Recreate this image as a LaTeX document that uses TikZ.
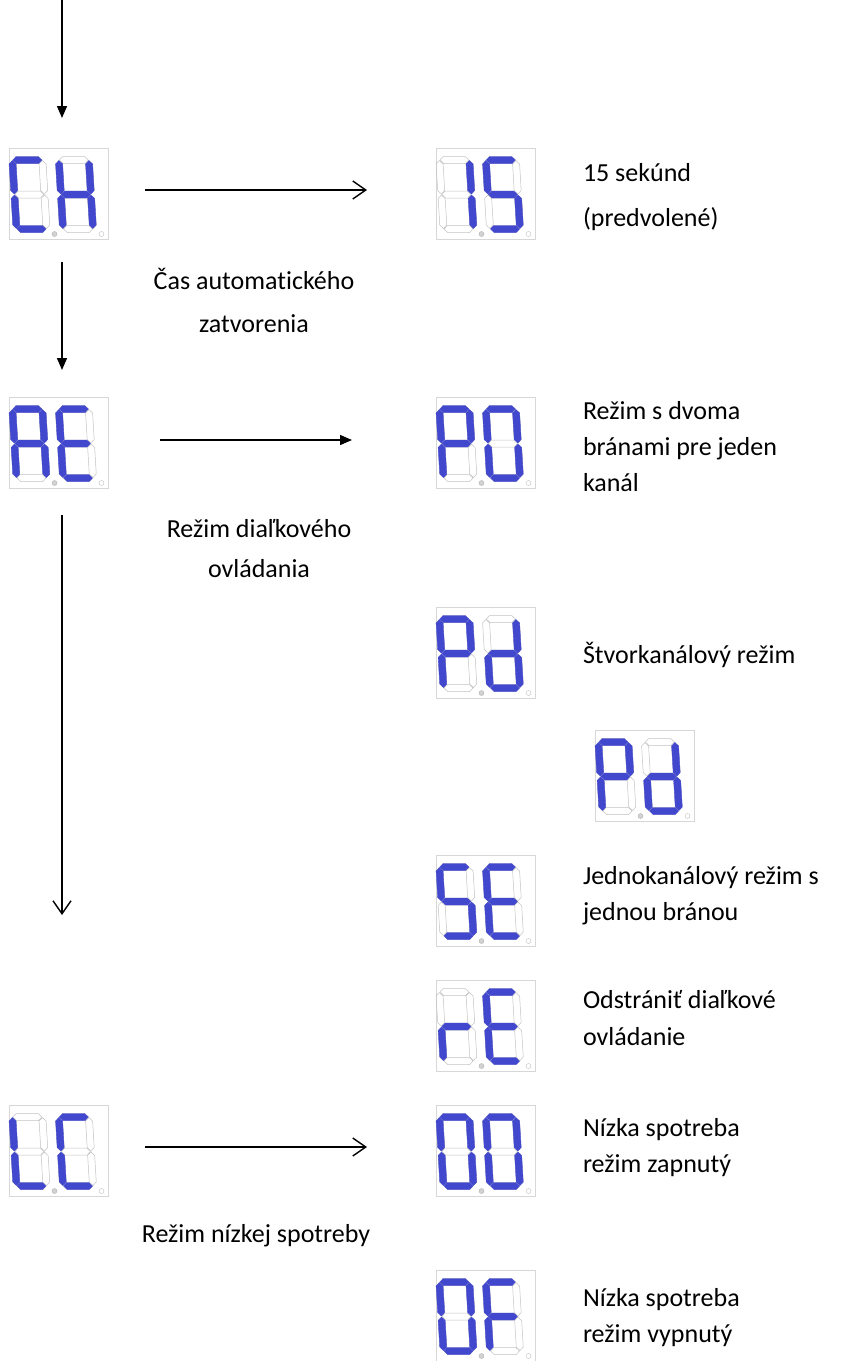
\documentclass[tikz,border=0pt]{standalone}
\usepackage{fontspec}
\setmainfont{Carlito}[RawFeature={-liga}]
\usetikzlibrary{arrows.meta}
\definecolor{segblue}{RGB}{66,72,205}
\definecolor{seggrey}{RGB}{195,195,195}
\definecolor{boxgrey}{RGB}{215,215,215}

% one digit: #1 = x offset in the box, #2 = lit segments
\newcommand{\segdigit}[2]{%
  \begin{scope}[shift={(#1,81)},yscale=-1,xslant=0.06]
    \foreach \s in {a,b,c,d,e,f,g}
      \path[segoff,seg\s] (-\seglen/2,0) -- ++(3.5,3.5) -- ++(\seglen-7,0)
        -- ++(3.5,-3.5) -- ++(-3.5,-3.5) -- ++(7-\seglen,0) -- cycle;
    \foreach \s in {#2}
      \path[segon,seg\s] (-\seglen/2,0) -- ++(3.5,3.5) -- ++(\seglen-7,0)
        -- ++(3.5,-3.5) -- ++(-3.5,-3.5) -- ++(7-\seglen,0) -- cycle;
  \end{scope}}
% two digits in a box: #1 = box node
\newcommand{\segpair}[3]{%
  \begin{scope}[shift={(#1.north west)}]
    \segdigit{7.5}{#2}
    \segdigit{54}{#3}
    \filldraw[draw=gray!60,fill=gray!35,line width=0.4pt] (45.5,86) circle[radius=2.5pt];
    \filldraw[draw=gray!50,fill=white,line width=0.4pt] (92.5,86) circle[radius=2.5pt];
  \end{scope}}

\begin{document}
\begin{tikzpicture}[
  x=1pt,y=-1pt,
  font=\fontsize{26}{36}\selectfont,
  every node/.style={inner sep=0pt,outer sep=0pt},
  disp/.style={draw=boxgrey,line width=0.8pt,minimum width=99pt,
    minimum height=91pt,anchor=north west},
  txt/.style={anchor=mid west},
  capt/.style={anchor=mid},
  segoff/.style={draw=seggrey,line width=0.5pt},
  segon/.style={fill=segblue,draw=segblue,line width=0.3pt},
  seglen/.store in=\seglen,
  sega/.style={shift={(15,69)},seglen=29},
  segb/.style={shift={(30,51.75)},rotate=90,seglen=33.5},
  segc/.style={shift={(30,17.25)},rotate=90,seglen=33.5},
  segd/.style={shift={(15,0)},seglen=29},
  sege/.style={shift={(0,17.25)},rotate=90,seglen=33.5},
  segf/.style={shift={(0,51.75)},rotate=90,seglen=33.5},
  segg/.style={shift={(15,34.5)},seglen=29},
  fwd/.style={line width=1.4pt,-{Straight Barb[length=13pt,width=18pt]}},
  dwn/.style={line width=1.4pt,-{Triangle[length=12pt,width=10pt]}},
]
\fill[white] (0,0) rectangle (842,1361);
\useasboundingbox (0,0) rectangle (842,1361);

\node[disp](dCH)at(9,148){};
\node[disp](d15)at(436,148){};
\node[disp](dAE)at(9,397){};
\node[disp](dP0)at(436,397){};
\node[disp](dPd)at(436,607){};
\node[disp](dPdb)at(595,730){};
\node[disp](dSE)at(436,855){};
\node[disp](drE)at(436,980){};
\node[disp](dLC)at(9,1105){};
\node[disp](d00)at(436,1105){};
\node[disp](d0F)at(436,1270){};

\segpair{dCH}{a,f,e,d}{b,c,e,f,g}
\segpair{d15}{b,c}{a,f,g,c,d}
\segpair{dAE}{a,b,c,e,f,g}{a,f,g,e,d}
\segpair{dP0}{a,b,f,g,e}{a,b,c,d,e,f}
\segpair{dPd}{a,b,f,g,e}{b,g,e,c,d}
\segpair{dPdb}{a,b,f,g,e}{b,g,e,c,d}
\segpair{dSE}{a,f,g,c,d}{a,f,g,e,d}
\segpair{drE}{g,e}{a,f,g,e,d}
\segpair{dLC}{f,e,d}{a,f,e,d}
\segpair{d00}{a,b,c,d,e,f}{a,b,c,d,e,f}
\segpair{d0F}{a,b,c,d,e,f}{a,f,g,e}

\node[txt](t15a)at(583,179){15 sekúnd};
\node[txt](t15b)at(583,224){(predvolené)};
\node[capt](tCHa)at(254,287){Čas automatického};
\node[capt](tCHb)at(254,330){zatvorenia};
\node[txt](tP0a)at(583,417){Režim s dvoma};
\node[txt](tP0b)at(583,453){bránami pre jeden};
\node[txt](tP0c)at(583,489){kanál};
\node[capt](tAEa)at(259,535){Režim diaľkového};
\node[capt](tAEb)at(259,575){ovládania};
\node[txt](tPd)at(583,661){Štvorkanálový režim};
\node[txt](tSEa)at(583,882){Jednokanálový režim s};
\node[txt](tSEb)at(583,918){jednou bránou};
\node[txt](trEa)at(583,1006){Odstrániť diaľkové};
\node[txt](trEb)at(583,1043){ovládanie};
\node[txt](t00a)at(583,1134){Nízka spotreba};
\node[txt](t00b)at(583,1170){režim zapnutý};
\node[capt](tLC)at(256,1240){Režim nízkej spotreby};
\node[txt](t0Fa)at(583,1304){Nízka spotreba};
\node[txt](t0Fb)at(583,1340){režim vypnutý};

% connectors
\coordinate(v0s)at(62,0);      \coordinate(v0e)at(62,118);
\coordinate(v1s)at(62,262);    \coordinate(v1e)at(62,370);
\coordinate(v2s)at(62,515);    \coordinate(v2e)at(62,915);
\coordinate(h0s)at(145,190);   \coordinate(h0e)at(367,190);
\coordinate(h1s)at(160,440);   \coordinate(h1e)at(352,440);
\coordinate(h2s)at(145,1147);  \coordinate(h2e)at(367,1147);
\draw[dwn](v0s)--(v0e);
\draw[dwn](v1s)--(v1e);
\draw[fwd](v2s)--(v2e);
\draw[fwd](h0s)--(h0e);
\draw[dwn](h1s)--(h1e);
\draw[fwd](h2s)--(h2e);
\end{tikzpicture}
\end{document}
